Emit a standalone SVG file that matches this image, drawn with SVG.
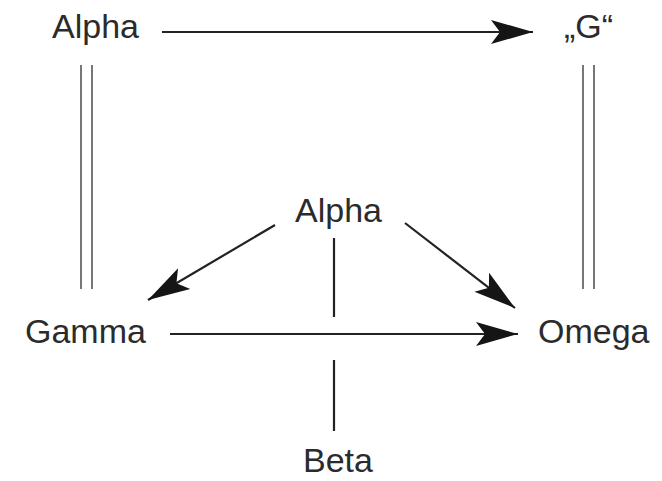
<svg xmlns="http://www.w3.org/2000/svg" width="662" height="481" viewBox="0 0 662 481">
<style>
  .lbl { font-family: "Liberation Sans", Arial, sans-serif; font-size: 34px; fill: #2b2b2b; }
  .ln { stroke: #222; stroke-width: 2.2; fill: none; }
  .dbl { stroke: #555; stroke-width: 1.6; fill: none; }
</style>
<defs>
  <marker id="ah" markerUnits="userSpaceOnUse" markerWidth="48" markerHeight="30" refX="44" refY="15" orient="auto">
    <path d="M2,3 L44,15 L2,27 L11,15 Z" fill="#151515"/>
  </marker>
</defs>
<rect width="662" height="481" fill="#ffffff"/>
<g id="connectors">
  <line class="ln" x1="162" y1="32" x2="533" y2="32" marker-end="url(#ah)"/>
  <line class="dbl" x1="81" y1="65" x2="81" y2="289"/>
  <line class="dbl" x1="92" y1="65" x2="92" y2="289"/>
  <line class="dbl" x1="583" y1="65" x2="583" y2="289"/>
  <line class="dbl" x1="594" y1="65" x2="594" y2="289"/>
  <line class="ln" x1="275" y1="225" x2="148" y2="300" marker-end="url(#ah)"/>
  <line class="ln" x1="405" y1="223" x2="515" y2="308" marker-end="url(#ah)"/>
  <line class="ln" x1="170" y1="334" x2="518" y2="334" marker-end="url(#ah)"/>
  <line class="ln" x1="334" y1="238" x2="334" y2="317"/>
  <line class="ln" x1="334" y1="360" x2="334" y2="431"/>
</g>
<g id="alpha-top"><text class="lbl" x="52" y="38">Alpha</text></g>
<g id="g-quote"><text class="lbl" x="564" y="38">„G“</text></g>
<g id="alpha-mid"><text class="lbl" x="295" y="222">Alpha</text></g>
<g id="gamma"><text class="lbl" x="25" y="343">Gamma</text></g>
<g id="omega"><text class="lbl" x="538" y="343">Omega</text></g>
<g id="beta"><text class="lbl" x="303" y="472">Beta</text></g>
</svg>
